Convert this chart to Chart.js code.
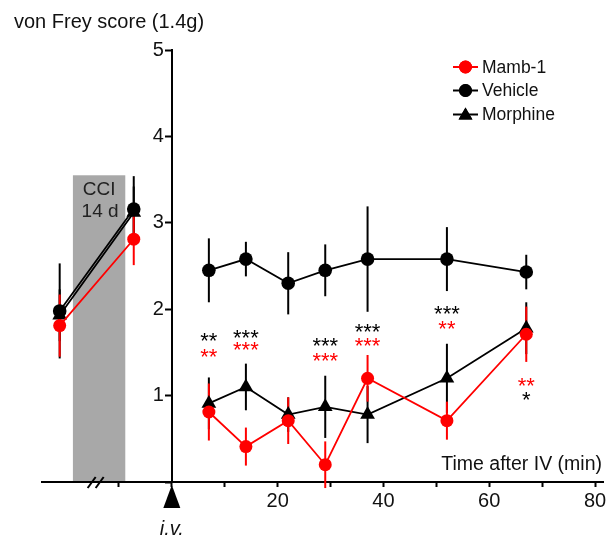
<!DOCTYPE html>
<html>
<head>
<meta charset="utf-8">
<script src="https://cdn.jsdelivr.net/npm/chart.js@4.4.1/dist/chart.umd.min.js"></script>
<style>
  html, body { margin: 0; padding: 0; background: #fff; }
  #chart { display: block; }
</style>
</head>
<body>
<canvas id="chart" width="612" height="545"></canvas>
<script>
// time points: two before treatment (baseline, CCI 14 d), then minutes after i.v.
const preTimes = [-21.2, -7.2];
const postTimes = [7, 14, 22, 29, 37, 52, 67];

const mambPre = [1.81, 2.81];
const mambPreErr = [0.36, 0.30];
const mambPost = [0.81, 0.41, 0.71, 0.20, 1.20, 0.71, 1.71];
const mambPostErr = [0.33, 0.22, 0.27, 0.27, 0.27, 0.22, 0.32];

const vehiclePre = [1.98, 3.16];
const vehiclePreErr = [0.55, 0.38];
const vehiclePost = [2.45, 2.58, 2.30, 2.45, 2.58, 2.58, 2.43];
const vehiclePostErr = [0.37, 0.20, 0.36, 0.30, 0.61, 0.37, 0.20];

const morphinePre = [1.93, 3.12];
const morphinePreErr = [0.30, 0.30];
const morphinePost = [0.91, 1.10, 0.78, 0.87, 0.78, 1.20, 1.78];
const morphinePostErr = [0.30, 0.27, 0.20, 0.36, 0.33, 0.40, 0.30];

const xTicks = [-10, 0, 10, 20, 30, 40, 50, 60, 70, 80];
const xLabelTicks = [20, 40, 60, 80];
const yTicks = [0, 1, 2, 3, 4, 5];

// CCI shaded period
const cciBand = [-18.7, -8.8];
const cciTop = 3.55;
const breakAt = -14.4;

// significance marks
const sigTimes = [7, 14, 29, 37, 52, 67];
const sigMorphine = ['**', '***', '***', '***', '***', '*'];
const sigMorphineY = [1.67, 1.71, 1.61, 1.78, 1.98, 0.99];
const sigMamb = ['**', '***', '***', '***', '**', '**'];
const sigMambY = [1.49, 1.57, 1.44, 1.61, 1.81, 1.15];

const RED = '#f00';
const BLACK = '#000';
const FONT = "'Liberation Sans', Arial, sans-serif";

function series(pre, post) {
    return preTimes.map((t, i) => ({ x: t, y: pre[i] }))
        .concat([{ x: 0, y: null }], postTimes.map((t, i) => ({ x: t, y: post[i] })));
}

function errors(pre, post) {
    return pre.concat([0], post);
}

const errorBars = {
    id: 'errorBars',
    beforeDatasetsDraw(chart) {
        const { ctx } = chart;
        const yScale = chart.scales.y;
        for (let i = chart.data.datasets.length - 1; i >= 0; i--) {
            const ds = chart.data.datasets[i];
            const meta = chart.getDatasetMeta(i);
            ctx.save();
            ctx.strokeStyle = ds.borderColor;
            ctx.lineWidth = 2;
            meta.data.forEach((pt, j) => {
                const v = ds.data[j].y;
                if (v === null) return;
                const e = ds.errors[j];
                ctx.beginPath();
                ctx.moveTo(pt.x, yScale.getPixelForValue(v - e));
                ctx.lineTo(pt.x, yScale.getPixelForValue(v + e));
                ctx.stroke();
            });
            ctx.restore();
        }
    }
};

const decor = {
    id: 'decor',
    beforeDraw(chart) {
        const { ctx } = chart;
        const x = chart.scales.x;
        const y = chart.scales.y;
        ctx.save();
        ctx.fillStyle = '#a8a8a8';
        const x1 = x.getPixelForValue(cciBand[0]);
        const x2 = x.getPixelForValue(cciBand[1]);
        const top = y.getPixelForValue(cciTop);
        ctx.fillRect(x1, top, x2 - x1, y.getPixelForValue(0) - top);
        ctx.fillStyle = '#222';
        ctx.font = '19px ' + FONT;
        ctx.textAlign = 'center';
        ctx.textBaseline = 'middle';
        const cx = (x1 + x2) / 2;
        ctx.fillText('CCI', cx, top + 14);
        ctx.fillText('14 d', cx + 1, top + 36);
        ctx.restore();
    },
    afterDraw(chart) {
        const { ctx } = chart;
        const x = chart.scales.x;
        const y = chart.scales.y;
        const y0 = y.getPixelForValue(0);
        const x0 = x.getPixelForValue(0);
        ctx.save();

        // axis break
        const bx = x.getPixelForValue(breakAt);
        ctx.strokeStyle = BLACK;
        ctx.lineWidth = 2;
        [-4, 4].forEach((d) => {
            ctx.beginPath();
            ctx.moveTo(bx + d - 4, y0 + 6);
            ctx.lineTo(bx + d + 4, y0 - 5);
            ctx.stroke();
        });

        // injection marker
        ctx.fillStyle = BLACK;
        ctx.beginPath();
        ctx.moveTo(x0, y0 + 3);
        ctx.lineTo(x0 + 8.5, y0 + 26);
        ctx.lineTo(x0 - 8.5, y0 + 26);
        ctx.closePath();
        ctx.fill();
        ctx.font = 'italic 20px ' + FONT;
        ctx.textAlign = 'center';
        ctx.textBaseline = 'middle';
        ctx.fillStyle = '#111';
        ctx.fillText('i.v.', x0, 529);

        // titles
        ctx.font = '20px ' + FONT;
        ctx.textAlign = 'left';
        ctx.textBaseline = 'alphabetic';
        ctx.fillText('von Frey score (1.4g)', 14, 28);
        ctx.font = '19.5px ' + FONT;
        ctx.textAlign = 'right';
        ctx.textBaseline = 'middle';
        ctx.fillText('Time after IV (min)', 602, 465);

        // significance
        ctx.font = '22px ' + FONT;
        ctx.textAlign = 'center';
        ctx.textBaseline = 'alphabetic';
        sigTimes.forEach((t, i) => {
            const px = x.getPixelForValue(t);
            ctx.fillStyle = BLACK;
            ctx.fillText(sigMorphine[i], px, y.getPixelForValue(sigMorphineY[i]) + 10.5);
            ctx.fillStyle = RED;
            ctx.fillText(sigMamb[i], px, y.getPixelForValue(sigMambY[i]) + 10.5);
        });

        // legend
        const rows = [67, 90.5, 114.5];
        ctx.font = '17.5px ' + FONT;
        ctx.textAlign = 'left';
        ctx.textBaseline = 'middle';
        chart.data.datasets.forEach((ds, i) => {
            const ry = rows[i];
            ctx.strokeStyle = ds.borderColor;
            ctx.fillStyle = ds.borderColor;
            ctx.lineWidth = 2;
            ctx.beginPath();
            ctx.moveTo(453, ry);
            ctx.lineTo(478, ry);
            ctx.stroke();
            Chart.helpers.drawPoint(ctx, {
                pointStyle: ds.pointStyle,
                radius: ds.pointStyle === 'triangle' ? 8 : 6.5,
                borderWidth: 0
            }, 465.5, ds.pointStyle === 'triangle' ? ry + 1 : ry);
            ctx.fill();
            ctx.fillStyle = '#111';
            ctx.fillText(ds.label, 482, ry + 1);
        });
        ctx.restore();
    }
};

const datasets = [
    {
        label: 'Mamb-1',
        data: series(mambPre, mambPost),
        errors: errors(mambPreErr, mambPostErr),
        borderColor: RED,
        backgroundColor: RED,
        pointStyle: 'circle',
        pointRadius: 6.5
    },
    {
        label: 'Vehicle',
        data: series(vehiclePre, vehiclePost),
        errors: errors(vehiclePreErr, vehiclePostErr),
        borderColor: BLACK,
        backgroundColor: BLACK,
        pointStyle: 'circle',
        pointRadius: 6.8
    },
    {
        label: 'Morphine',
        data: series(morphinePre, morphinePost),
        errors: errors(morphinePreErr, morphinePostErr),
        borderColor: BLACK,
        backgroundColor: BLACK,
        pointStyle: 'triangle',
        pointRadius: 8.5
    }
].map((ds) => Object.assign(ds, {
    borderWidth: 1.8,
    pointBorderWidth: 0,
    pointBackgroundColor: ds.backgroundColor,
    pointBorderColor: ds.borderColor,
    spanGaps: false,
    tension: 0
}));

new Chart(document.getElementById('chart'), {
    type: 'line',
    data: { datasets },
    options: {
        responsive: false,
        animation: false,
        layout: { padding: { left: 41.7, right: 7, top: 50, bottom: 0 } },
        plugins: { legend: { display: false }, tooltip: { enabled: false } },
        scales: {
            x: {
                type: 'linear',
                min: -24.6,
                max: 81.6,
                border: { color: BLACK, width: 2 },
                grid: { drawOnChartArea: false, drawTicks: true, tickLength: 5, tickWidth: 2, tickColor: BLACK },
                ticks: {
                    autoSkip: false,
                    maxRotation: 0,
                    color: '#111',
                    padding: 2,
                    font: { size: 20, family: FONT },
                    callback: (v) => (xLabelTicks.includes(v) ? String(v) : '')
                },
                afterBuildTicks: (scale) => { scale.ticks = xTicks.map((v) => ({ value: v })); },
                afterFit: (scale) => { scale.height = 63; }
            },
            y: {
                type: 'linear',
                position: { x: 0 },
                min: 0,
                max: 5,
                border: { color: BLACK, width: 2 },
                grid: { drawOnChartArea: false, drawTicks: true, tickLength: 6, tickWidth: 2, tickColor: BLACK },
                ticks: {
                    color: '#111',
                    font: { size: 20, family: FONT },
                    // labels of an axis placed at x = 0 sit on the axis line; thin spaces push them clear of the ticks
                    callback: (v) => (v === 0 ? '' : String(v) + '\u2009\u2009')
                },
                afterBuildTicks: (scale) => { scale.ticks = yTicks.map((v) => ({ value: v })); }
            }
        }
    },
    plugins: [errorBars, decor]
});
</script>
</body>
</html>
